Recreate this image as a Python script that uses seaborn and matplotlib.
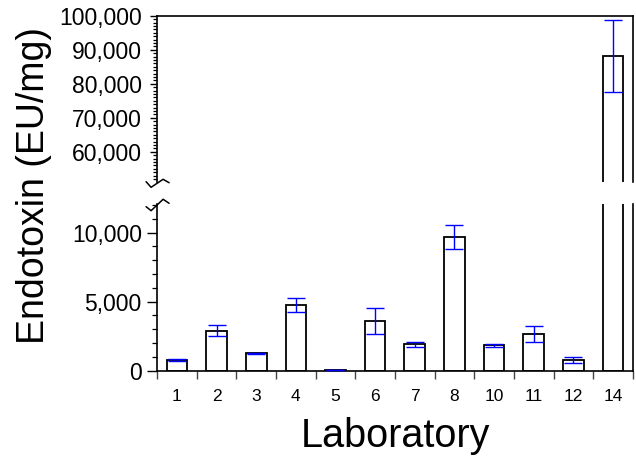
import numpy as np
import pandas as pd
import seaborn as sns
import matplotlib.pyplot as plt
from matplotlib.ticker import FuncFormatter, MultipleLocator

# data
labs = ['1', '2', '3', '4', '5', '6', '7', '8', '10', '11', '12', '14']
endotoxin = [750, 2900, 1250, 4750, 40, 3600, 1900, 9700, 1830, 2650, 790, 88200]
err = [80, 420, 60, 480, 20, 930, 150, 860, 130, 560, 200, 10600]

sns.set_style('ticks')
plt.rcParams['font.family'] = ['Liberation Sans', 'DejaVu Sans']
plt.rcParams.update({'text.color': 'black', 'axes.labelcolor': 'black',
                     'xtick.color': 'black', 'ytick.color': 'black'})

df = pd.DataFrame({'lab': labs, 'val': endotoxin, 'err': err})

fig = plt.figure(figsize=(6.36, 4.57), dpi=100)
ax_top = fig.add_axes([0.247, 0.6024, 0.748, 0.3632])
ax_bot = fig.add_axes([0.247, 0.1888, 0.748, 0.3642])

# top panel: 51,200 to 100,000 ; bottom panel: 0 to 12,050
panels = [(ax_top, (51200, 100000), 10000, 5, 2.8),
          (ax_bot, (0, 12050), 5000, 7, 3.8)]

for ax, lim, major, maj_len, min_len in panels:
    sns.barplot(data=df, x='lab', y='val', order=labs, color='white',
                edgecolor='black', linewidth=1.3, width=0.52,
                errorbar=None, ax=ax, saturation=1)
    ax.errorbar(x=np.arange(len(labs)), y=df['val'], yerr=df['err'],
                fmt='none', ecolor='#0000ff', elinewidth=1.0,
                capsize=6.5, capthick=1.0, zorder=5)
    ax.set_xlim(-0.5, len(labs) - 0.5)
    ax.set_xlabel('')
    ax.set_ylabel('')
    for s in ax.spines.values():
        s.set_linewidth(1.2)
        s.set_color('black')

ax_top.spines['bottom'].set_visible(False)
ax_top.xaxis.set_tick_params(which='both', bottom=False, labelbottom=False)

ax_bot.spines['top'].set_visible(False)
ax_bot.set_xticks(np.arange(len(labs)))
ax_bot.set_xticklabels(labs)
ax_bot.set_xticks(np.arange(len(labs) + 1) - 0.5, minor=True)
ax_bot.xaxis.set_tick_params(which='major', length=0, pad=13, labelsize=12.5)
ax_bot.xaxis.set_tick_params(which='minor', bottom=True, length=6,
                             width=1, color='#444444')

# axis break marks on the left spine (pixel offsets)
w_px, h_px = 476.0, 166.0
kx = np.array([-11, -6, 6, 12]) / w_px
ax_top.plot(kx, np.array([0, -5.6, 2.4, -1]) / h_px, color='black', lw=1.1,
            transform=ax_top.transAxes, clip_on=False)
ax_bot.plot(kx, 1 + np.array([-2.4, -6.4, 5, 1]) / h_px, color='black', lw=1.1,
            transform=ax_bot.transAxes, clip_on=False)

fig.text(0.054, 0.593, 'Endotoxin (EU/mg)', rotation=90, ha='center',
         va='center', fontsize=27)
fig.text(395 / 636, 1 - 447 / 457, 'Laboratory', ha='center',
         va='baseline', fontsize=28.5)

# y scales and ticks last
for ax, lim, major, maj_len, min_len in panels:
    ax.set_ylim(*lim)
    ax.yaxis.set_major_locator(MultipleLocator(major))
    ax.yaxis.set_minor_locator(MultipleLocator(1000))
    ax.yaxis.set_major_formatter(FuncFormatter(lambda v, p: '{:,.0f}'.format(v)))
    ax.tick_params(axis='y', which='major', left=True, length=maj_len,
                   width=1, labelsize=16.5, color='black')
    ax.tick_params(axis='y', which='minor', left=True, length=min_len,
                   width=0.9, color='black')
ax_top.tick_params(axis='y', which='major', pad=6)
ax_bot.tick_params(axis='y', which='major', pad=4)

fig.savefig('out.png', dpi=100)
